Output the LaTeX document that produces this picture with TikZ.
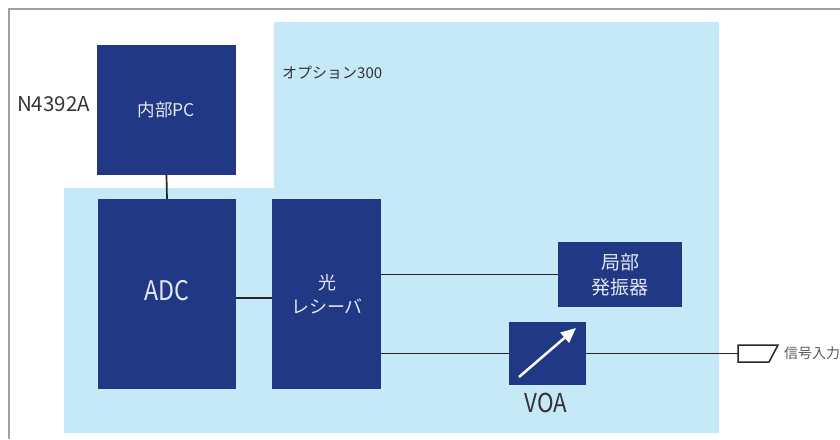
\documentclass[tikz,border=0pt]{standalone}
\usepackage{fontspec}
\setmainfont{Noto Sans CJK JP}
\newfontfamily\cond{Noto Sans CJK JP}[FakeStretch=0.86]
\usetikzlibrary{arrows.meta}
\definecolor{dkblue}{HTML}{213884}
\definecolor{ltblue}{HTML}{C6E9F8}
\definecolor{framegray}{HTML}{A0A0A0}
\definecolor{txtgray}{HTML}{333333}
\definecolor{boxtxt}{HTML}{E4E8F2}
\tikzset{
  blk/.style={fill=dkblue, draw=none, text=boxtxt, inner sep=0pt, align=center},
  wire/.style={draw=black!85, line width=1.7pt},
  lbl/.style={text=txtgray, inner sep=0pt},
}
\begin{document}
\begin{tikzpicture}[x=1pt,y=-1pt]
\useasboundingbox (0,0) rectangle (840,439);
% outer frame
\draw[framegray, line width=1.5pt] (9,439) -- (9,9) -- (840,9);
% option region
\fill[ltblue] (274,22) -- (719,22) -- (719,433) -- (64,433) -- (64,188) -- (274,188) -- cycle;
% labels
\node[lbl, font=\fontsize{20.5}{22}\selectfont] (n4392) at (53.5,104) {N4392A};
\node[lbl, anchor=west, font=\fontsize{15}{18}\selectfont] (opt) at (282,73) {オプション300};
% blocks
\node[blk, minimum width=139pt, minimum height=130pt, font=\fontsize{17.5}{19}\selectfont] (pc) at (166.5,110) {内部PC};
\node[blk, minimum width=138pt, minimum height=190pt] (adc) at (167,294) {};
\node[font=\cond\fontsize{27}{28}\selectfont, text=boxtxt, inner sep=0pt] (adctxt) at (167,291) {ADC};
\node[blk, minimum width=109pt, minimum height=190pt] (rx) at (326.5,294) {};
\node[font=\fontsize{18}{24}\selectfont, text=boxtxt, align=center, inner sep=0pt] (rxtxt) at (327,294) {光\\レシーバ};
\node[blk, minimum width=124pt, minimum height=65pt, font=\fontsize{19}{25}\selectfont] (lo) at (620,274.5) {局部\\発振器};
\node[blk, minimum width=77pt, minimum height=63pt] (voa) at (547.5,353.5) {};
\node[lbl, font=\cond\fontsize{26}{28}\selectfont] (voalbl) at (546,403) {VOA};
% arrow inside VOA
\coordinate (va) at (519,377);
\coordinate (vb) at (576,328);
\draw[white, line width=2.5pt, -{Triangle[length=15pt,width=13pt]}] (va) -- (vb);
% connector
\coordinate (sigin) at (738,353.5);
\draw[black!85, line width=1.5pt, fill=white] (738,345) -- (778,345) -- (769,362) -- (738,362) -- cycle;
\node[text=black!65, anchor=west, inner sep=0pt, font=\fontsize{14}{15}\selectfont] (sigtxt) at (784,353.5) {信号入力};
% wires
\draw[wire] (pc.south) -- (adc.north);
\draw[wire] (adc.east |- 0,298) -- (rx.west |- 0,298);
\draw[wire] (rx.east |- lo.west) -- (lo.west);
\draw[wire] (rx.east |- voa.west) -- (voa.west);
\draw[wire] (voa.east) -- (sigin);
\end{tikzpicture}
\end{document}
